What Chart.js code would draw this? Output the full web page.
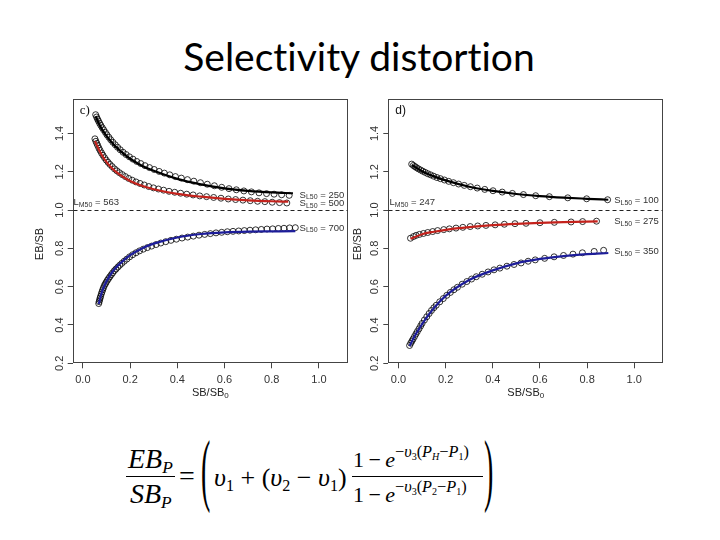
<!DOCTYPE html>
<html>
<head>
<meta charset="utf-8">
<script src="https://cdn.jsdelivr.net/npm/chart.js@4/dist/chart.umd.min.js"></script>
<style>
  body { margin: 0; width: 720px; height: 540px; background: #fff; position: relative; overflow: hidden; }
  #title { position: absolute; left: 0; top: 37px; width: 718px; text-align: center; font: 39px Lato, "Open Sans", sans-serif; line-height: 1; color: #000; font-variant-ligatures: none; }
  canvas { position: absolute; }
  .f { position: absolute; font-family: "Liberation Serif", "DejaVu Serif", serif; line-height: 1; white-space: nowrap; color: #000; }
  .i { font-style: italic; }
  .dn { position: relative; top: 0.28em; font-size: 0.62em; }
  .up { position: relative; top: -0.62em; font-size: 0.74em; }
  .bar { position: absolute; height: 1px; background: #000; }
  .paren { transform: scale(1, 2.9); transform-origin: 50% 16px; }
</style>
</head>
<body>
<div id="title">Selectivity distortion</div>
<canvas id="panelC" width="330" height="320" style="left:30px;top:90px"></canvas>
<canvas id="panelD" width="330" height="320" style="left:345px;top:90px"></canvas>

<div class="f i" style="left:128px;top:445px;font-size:28px">EB<span class="dn">P</span></div>
<div class="bar" style="left:126px;top:476px;width:49px"></div>
<div class="f i" style="left:130px;top:480px;font-size:28px">SB<span class="dn">P</span></div>
<div class="f" style="left:179px;top:462px;font-size:28px">=</div>
<div class="f paren" style="left:201px;top:460px;font-size:28px">(</div>
<div class="f" style="left:214px;top:465px;font-size:26px"><i>υ</i><span class="dn">1</span> + (<i>υ</i><span class="dn">2</span> − <i>υ</i><span class="dn">1</span>)</div>
<div class="f" style="left:353px;top:449px;font-size:22px">1&#8201;−&#8201;<i>e</i><span class="up">−<i>υ</i><span class="dn">3</span>(<i>P</i><span class="dn"><i>H</i></span>−<i>P</i><span class="dn">1</span>)</span></div>
<div class="bar" style="left:352px;top:476px;width:131px"></div>
<div class="f" style="left:353px;top:484px;font-size:22px">1&#8201;−&#8201;<i>e</i><span class="up">−<i>υ</i><span class="dn">3</span>(<i>P</i><span class="dn">2</span>−<i>P</i><span class="dn">1</span>)</span></div>
<div class="f paren" style="left:484px;top:460px;font-size:28px">)</div>

<script>
// tick labels
const xTicks = [0.0, 0.2, 0.4, 0.6, 0.8, 1.0];
const yTicks = [0.2, 0.4, 0.6, 0.8, 1.0, 1.2, 1.4];

// panel c) - circles (simulated) and fitted curves
const cBlackPtX = [0.054, 0.058, 0.062, 0.066, 0.071, 0.076, 0.082, 0.088, 0.095, 0.102, 0.110, 0.118, 0.127, 0.137, 0.147, 0.158, 0.170, 0.183, 0.197, 0.212, 0.228, 0.245, 0.263, 0.282, 0.302, 0.323, 0.345, 0.368, 0.392, 0.417, 0.443, 0.470, 0.498, 0.527, 0.557, 0.588, 0.619, 0.650, 0.682, 0.714, 0.746, 0.778, 0.810, 0.842, 0.874];
const cBlackPtY = [1.498, 1.486, 1.475, 1.465, 1.453, 1.442, 1.430, 1.419, 1.406, 1.393, 1.380, 1.367, 1.354, 1.341, 1.328, 1.315, 1.302, 1.290, 1.278, 1.266, 1.254, 1.243, 1.232, 1.222, 1.212, 1.202, 1.193, 1.184, 1.175, 1.167, 1.159, 1.151, 1.143, 1.135, 1.127, 1.119, 1.112, 1.106, 1.100, 1.095, 1.090, 1.086, 1.083, 1.080, 1.077];
const cBlackFitX = [0.054, 0.07, 0.09, 0.12, 0.15, 0.2, 0.25, 0.3, 0.4, 0.5, 0.6, 0.7, 0.8, 0.89];
const cBlackFitY = [1.49, 1.445, 1.405, 1.357, 1.318, 1.268, 1.232, 1.205, 1.163, 1.134, 1.113, 1.100, 1.092, 1.088];

const cRedPtX = [0.051, 0.055, 0.059, 0.063, 0.068, 0.073, 0.079, 0.085, 0.092, 0.099, 0.107, 0.115, 0.124, 0.134, 0.144, 0.155, 0.167, 0.180, 0.194, 0.209, 0.225, 0.242, 0.260, 0.279, 0.299, 0.320, 0.342, 0.365, 0.389, 0.414, 0.440, 0.467, 0.495, 0.524, 0.554, 0.585, 0.616, 0.647, 0.678, 0.709, 0.740, 0.771, 0.802, 0.833, 0.864];
const cRedPtY = [1.372, 1.359, 1.348, 1.337, 1.323, 1.311, 1.298, 1.286, 1.273, 1.261, 1.249, 1.238, 1.227, 1.215, 1.205, 1.195, 1.185, 1.175, 1.165, 1.156, 1.147, 1.139, 1.131, 1.123, 1.116, 1.110, 1.104, 1.098, 1.093, 1.088, 1.083, 1.079, 1.074, 1.070, 1.066, 1.062, 1.058, 1.055, 1.052, 1.049, 1.046, 1.044, 1.041, 1.039, 1.037];
const cRedFitX = [0.051, 0.07, 0.09, 0.12, 0.15, 0.2, 0.25, 0.3, 0.4, 0.5, 0.6, 0.7, 0.8, 0.87];
const cRedFitY = [1.36, 1.31, 1.268, 1.222, 1.19, 1.152, 1.127, 1.109, 1.085, 1.07, 1.059, 1.051, 1.046, 1.044];

const cBluePtX = [0.067, 0.069, 0.071, 0.073, 0.075, 0.078, 0.081, 0.084, 0.087, 0.091, 0.095, 0.099, 0.104, 0.109, 0.114, 0.120, 0.126, 0.133, 0.140, 0.148, 0.156, 0.165, 0.175, 0.186, 0.198, 0.211, 0.225, 0.240, 0.256, 0.273, 0.291, 0.310, 0.330, 0.351, 0.373, 0.396, 0.420, 0.444, 0.468, 0.492, 0.516, 0.540, 0.564, 0.588, 0.612, 0.636, 0.660, 0.684, 0.708, 0.732, 0.756, 0.780, 0.804, 0.828, 0.852, 0.876, 0.900];
const cBluePtY = [0.512, 0.522, 0.532, 0.541, 0.550, 0.562, 0.573, 0.584, 0.594, 0.606, 0.615, 0.624, 0.634, 0.643, 0.652, 0.662, 0.672, 0.683, 0.692, 0.702, 0.712, 0.722, 0.733, 0.744, 0.756, 0.767, 0.777, 0.787, 0.796, 0.804, 0.812, 0.820, 0.828, 0.835, 0.842, 0.848, 0.854, 0.859, 0.864, 0.869, 0.873, 0.877, 0.881, 0.884, 0.887, 0.889, 0.891, 0.893, 0.895, 0.897, 0.899, 0.901, 0.902, 0.904, 0.905, 0.907, 0.908];
const cBlueFitX = [0.067, 0.08, 0.1, 0.13, 0.17, 0.2, 0.25, 0.3, 0.4, 0.5, 0.6, 0.7, 0.8, 0.9];
const cBlueFitY = [0.51, 0.57, 0.628, 0.686, 0.735, 0.765, 0.80, 0.825, 0.857, 0.875, 0.884, 0.888, 0.889, 0.89];

// panel d)
const dBlackPtX = [0.056, 0.063, 0.070, 0.077, 0.085, 0.094, 0.103, 0.113, 0.124, 0.136, 0.149, 0.163, 0.178, 0.195, 0.213, 0.233, 0.255, 0.279, 0.305, 0.334, 0.366, 0.401, 0.440, 0.483, 0.530, 0.582, 0.640, 0.718, 0.798, 0.887];
const dBlackPtY = [1.240, 1.233, 1.227, 1.221, 1.215, 1.209, 1.203, 1.197, 1.190, 1.184, 1.177, 1.170, 1.164, 1.157, 1.150, 1.143, 1.136, 1.129, 1.122, 1.115, 1.108, 1.101, 1.094, 1.087, 1.081, 1.075, 1.070, 1.064, 1.059, 1.054];
const dBlackFitX = [0.056, 0.1, 0.15, 0.2, 0.3, 0.4, 0.5, 0.6, 0.7, 0.8, 0.89];
const dBlackFitY = [1.235, 1.203, 1.176, 1.155, 1.122, 1.100, 1.084, 1.073, 1.065, 1.059, 1.054];

const dRedPtX = [0.051, 0.064, 0.075, 0.089, 0.106, 0.124, 0.145, 0.166, 0.192, 0.216, 0.244, 0.273, 0.304, 0.336, 0.371, 0.410, 0.449, 0.494, 0.541, 0.600, 0.661, 0.732, 0.781, 0.840];
const dRedPtY = [0.853, 0.862, 0.868, 0.873, 0.878, 0.883, 0.888, 0.893, 0.898, 0.902, 0.906, 0.910, 0.914, 0.917, 0.920, 0.923, 0.926, 0.929, 0.931, 0.934, 0.936, 0.938, 0.940, 0.942];
const dRedFitX = [0.051, 0.1, 0.15, 0.2, 0.3, 0.4, 0.5, 0.6, 0.7, 0.845];
const dRedFitY = [0.85, 0.874, 0.887, 0.897, 0.911, 0.921, 0.928, 0.933, 0.937, 0.941];

const dBluePtX = [0.047, 0.052, 0.057, 0.062, 0.068, 0.074, 0.080, 0.087, 0.094, 0.100, 0.110, 0.120, 0.130, 0.140, 0.150, 0.160, 0.175, 0.190, 0.205, 0.220, 0.235, 0.250, 0.270, 0.290, 0.310, 0.330, 0.355, 0.380, 0.405, 0.430, 0.460, 0.490, 0.520, 0.550, 0.580, 0.620, 0.660, 0.700, 0.740, 0.780, 0.830, 0.870];
const dBluePtY = [0.293, 0.305, 0.316, 0.327, 0.340, 0.353, 0.366, 0.380, 0.395, 0.408, 0.426, 0.443, 0.460, 0.476, 0.490, 0.503, 0.521, 0.538, 0.555, 0.570, 0.584, 0.597, 0.613, 0.627, 0.640, 0.652, 0.665, 0.677, 0.688, 0.697, 0.707, 0.716, 0.724, 0.733, 0.740, 0.748, 0.756, 0.763, 0.770, 0.777, 0.784, 0.790];
const dBlueFitX = [0.047, 0.07, 0.1, 0.15, 0.2, 0.3, 0.4, 0.5, 0.6, 0.7, 0.8, 0.89];
const dBlueFitY = [0.29, 0.345, 0.405, 0.488, 0.552, 0.635, 0.685, 0.722, 0.745, 0.76, 0.77, 0.776];

const RED = '#c4221c';
const BLUE = '#1d1d9a';

function pts(xs, ys) {
    return xs.map((x, i) => ({ x: x, y: ys[i] }));
}

function fitLine(xs, ys, color) {
    return {
        data: pts(xs, ys),
        showLine: true,
        pointRadius: 0,
        borderColor: color,
        borderWidth: 2.2,
        cubicInterpolationMode: 'monotone',
        order: 0
    };
}

function circles(xs, ys) {
    return {
        data: pts(xs, ys),
        showLine: false,
        pointRadius: 3,
        pointBorderWidth: 0.8,
        borderColor: '#000',
        backgroundColor: 'rgba(0,0,0,0)',
        order: 1
    };
}

// draws "main" + subscript + "rest", left aligned at x
function drawSub(ctx, x, y, main, sub, rest, size, family) {
    const big = size + 'px ' + family;
    const small = Math.round(size * 0.72) + 'px ' + family;
    ctx.textBaseline = 'middle';
    ctx.textAlign = 'left';
    ctx.font = big;
    ctx.fillText(main, x, y);
    x += ctx.measureText(main).width;
    ctx.font = small;
    ctx.fillText(sub, x, y + size * 0.25);
    x += ctx.measureText(sub).width;
    ctx.font = big;
    ctx.fillText(rest, x, y);
}

const SANS = '"Liberation Sans", Arial, sans-serif';

const panelDecor = {
    id: 'panelDecor',
    afterDraw(chart, args, o) {
        const ctx = chart.ctx;
        const a = chart.chartArea;
        const sx = chart.scales.x;
        const sy = chart.scales.y;
        ctx.save();

        const L = Math.round(a.left) + 0.5, R = Math.round(a.right) - 0.5;
        const T = Math.round(a.top) + 0.5, B = Math.round(a.bottom) - 0.5;
        ctx.strokeStyle = '#444';
        ctx.lineWidth = 1;
        ctx.strokeRect(L, T, R - L, B - T);

        // reference line at EB/SB = 1
        const y1 = Math.round(sy.getPixelForValue(1.0)) + 0.5;
        ctx.strokeStyle = '#222';
        ctx.setLineDash([4, 3]);
        ctx.beginPath();
        ctx.moveTo(L, y1);
        ctx.lineTo(R, y1);
        ctx.stroke();
        ctx.setLineDash([]);

        // tick labels
        ctx.fillStyle = '#333';
        ctx.font = '11px ' + SANS;
        ctx.textAlign = 'center';
        ctx.textBaseline = 'middle';
        xTicks.forEach(v => ctx.fillText(v.toFixed(1), sx.getPixelForValue(v), a.bottom + 17));
        yTicks.forEach(v => {
            ctx.save();
            ctx.translate(a.left - 13, sy.getPixelForValue(v));
            ctx.rotate(-Math.PI / 2);
            ctx.fillText(v.toFixed(1), 0, 0);
            ctx.restore();
        });

        // axis titles
        ctx.fillStyle = '#222';
        ctx.font = '11px ' + SANS;
        const w1 = ctx.measureText('SB/SB').width;
        ctx.font = '8px ' + SANS;
        const w2 = ctx.measureText('0').width;
        drawSub(ctx, (a.left + a.right) / 2 - (w1 + w2) / 2, a.bottom + 30, 'SB/SB', '0', '', 11, SANS);
        ctx.save();
        ctx.translate(a.left - o.yTitleOff, a.top + 145);
        ctx.rotate(-Math.PI / 2);
        ctx.textAlign = 'center';
        ctx.font = '11px ' + SANS;
        ctx.fillText('EB/SB', 0, 0);
        ctx.restore();

        // panel letter
        ctx.fillStyle = '#111';
        ctx.font = o.nameFont;
        ctx.textAlign = 'left';
        ctx.fillText(o.name, a.left + 7, a.top + 12);

        // curve notes
        ctx.fillStyle = '#333';
        o.notes.forEach(n => {
            drawSub(ctx, sx.getPixelForValue(n.x), sy.getPixelForValue(n.y), n.main, n.sub, n.rest, 9.5, SANS);
        });
        ctx.restore();
    }
};

function makePanel(id, datasets, o) {
    const ctx = document.getElementById(id).getContext('2d');
    return new Chart(ctx, {
        type: 'scatter',
        data: { datasets: datasets },
        options: {
            responsive: false,
            animation: false,
            layout: { padding: { top: 9, right: o.padRight, bottom: 0, left: 0 } },
            plugins: {
                legend: { display: false },
                tooltip: { enabled: false },
                panelDecor: o
            },
            scales: {
                x: {
                    type: 'linear',
                    min: -0.0432,
                    max: 1.1232,
                    afterBuildTicks: s => { s.ticks = xTicks.map(v => ({ value: v })); },
                    afterFit: s => { s.height = 46.7; },
                    ticks: { display: false },
                    border: { display: false },
                    grid: { drawOnChartArea: false, drawTicks: true, tickLength: 5, color: '#444' }
                },
                y: {
                    type: 'linear',
                    min: 0.2,
                    max: 1.58,
                    afterBuildTicks: s => { s.ticks = yTicks.map(v => ({ value: v })); },
                    afterFit: s => { s.width = o.yWidth; },
                    ticks: { display: false },
                    border: { display: false },
                    grid: { drawOnChartArea: false, drawTicks: true, tickLength: 5, color: '#444' }
                }
            }
        },
        plugins: [panelDecor]
    });
}

makePanel('panelC', [
    fitLine(cBlackFitX, cBlackFitY, '#000'),
    fitLine(cRedFitX, cRedFitY, RED),
    fitLine(cBlueFitX, cBlueFitY, BLUE),
    circles(cBlackPtX, cBlackPtY),
    circles(cRedPtX, cRedPtY),
    circles(cBluePtX, cBluePtY)
], {
    name: 'c)',
    nameFont: '13px "Liberation Serif", serif',
    padRight: 12,
    yWidth: 42.7,
    yTitleOff: 33,
    notes: [
        { x: -0.04, y: 1.04, main: 'L', sub: 'M50', rest: ' = 563' },
        { x: 0.918, y: 1.079, main: 'S', sub: 'L50', rest: ' = 250' },
        { x: 0.918, y: 1.035, main: 'S', sub: 'L50', rest: ' = 500' },
        { x: 0.918, y: 0.907, main: 'S', sub: 'L50', rest: ' = 700' }
    ]
});

makePanel('panelD', [
    fitLine(dBlackFitX, dBlackFitY, '#000'),
    fitLine(dRedFitX, dRedFitY, RED),
    fitLine(dBlueFitX, dBlueFitY, BLUE),
    circles(dBlackPtX, dBlackPtY),
    circles(dRedPtX, dRedPtY),
    circles(dBluePtX, dBluePtY)
], {
    name: 'd)',
    nameFont: '12px ' + SANS,
    padRight: 11.7,
    yWidth: 43.3,
    yTitleOff: 30,
    notes: [
        { x: -0.038, y: 1.038, main: 'L', sub: 'M50', rest: ' = 247' },
        { x: 0.915, y: 1.05, main: 'S', sub: 'L50', rest: ' = 100' },
        { x: 0.915, y: 0.942, main: 'S', sub: 'L50', rest: ' = 275' },
        { x: 0.915, y: 0.785, main: 'S', sub: 'L50', rest: ' = 350' }
    ]
});
</script>
</body>
</html>
